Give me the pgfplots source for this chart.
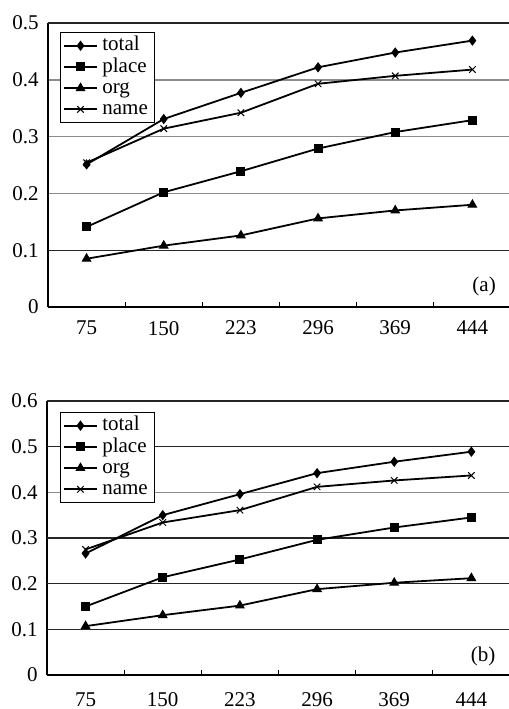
\documentclass[border=0pt]{standalone}
\usepackage{fontspec}
\setmainfont{Liberation Serif}
\usepackage{pgfplots}
\pgfplotsset{compat=1.18}
\pgfplotsset{
  mystyle/.style={
    scale only axis, width=231.5pt,
    xmin=-0.5, xmax=5.5, ymin=0,
    axis x line*=bottom, axis y line*=left,
    axis line style={black, line width=0.9pt},
    xtick={0,1,2,3,4,5}, xticklabels={75,150,223,296,369,444},
    major tick length=0pt,
    extra x ticks={0.5,1.5,2.5,3.5,4.5}, extra x tick labels={},
    extra x tick style={major tick length=2.5pt, tick align=inside, tick style={black, line width=0.6pt}},
    ymajorgrids=true,
    major grid style={black!45, line width=0.7pt},
    extra y tick style={major grid style={black!85, line width=0.7pt}},
    /pgf/number format/assume math mode=true,
    yticklabel style={/pgf/number format/fixed, /pgf/number format/precision=1, xshift=-1.2pt},
    tick label style={font=\fontsize{10.5}{12}\selectfont},
    every axis plot/.append style={black, line width=0.9pt, mark options={solid, line width=0.5pt}},
    legend style={draw=black, line width=0.7pt, font=\fontsize{10.5}{10.5}\selectfont, inner sep=1.2pt, row sep=0pt,
      nodes={inner xsep=2.2pt, inner ysep=0.6pt, text height=7.3pt, text depth=2.1pt},
      legend cell align=left, anchor=north west},
    legend image code/.code={\draw[mark repeat=2,mark phase=2] plot coordinates {(0cm,0cm) (0.29cm,0cm) (0.58cm,0cm)};},
  }
}
\begin{document}
\begin{tikzpicture}
% (a)
\begin{axis}[mystyle, at={(0pt,0pt)}, anchor=south west, height=142pt,
  ymax=0.5, ytick={0,0.2,0.3,0.4}, extra y ticks={0.1,0.5},
  xticklabel style={yshift=-3.5pt},
  legend style={at={(axis description cs:0.026,0.968)}}]
\addplot[mark=diamond*, mark size=2.2pt] coordinates {(0,0.251) (1,0.331) (2,0.377) (3,0.422) (4,0.448) (5,0.469)};
\addplot[mark=square*, mark size=2pt] coordinates {(0,0.141) (1,0.202) (2,0.239) (3,0.279) (4,0.308) (5,0.329)};
\addplot[mark=triangle*, mark size=2.4pt] coordinates {(0,0.085) (1,0.108) (2,0.126) (3,0.156) (4,0.170) (5,0.180)};
\addplot[mark=x, mark size=2.3pt] coordinates {(0,0.254) (1,0.314) (2,0.342) (3,0.393) (4,0.407) (5,0.418)};
\legend{total,place,org,name}
\node[font=\fontsize{10.5}{12}\selectfont] at (rel axis cs:0.942,0.074) {(a)};
\end{axis}
% (b)
\begin{axis}[mystyle, at={(-0.5pt,-184pt)}, anchor=south west, height=137pt,
  ymax=0.6, ytick={0,0.4}, extra y ticks={0.1,0.2,0.3,0.5,0.6},
  xticklabel style={yshift=-5.3pt},
  legend style={at={(axis description cs:0.028,0.96)}}]
\addplot[mark=diamond*, mark size=2.2pt] coordinates {(0,0.266) (1,0.350) (2,0.396) (3,0.442) (4,0.467) (5,0.489)};
\addplot[mark=square*, mark size=2pt] coordinates {(0,0.150) (1,0.214) (2,0.253) (3,0.296) (4,0.323) (5,0.345)};
\addplot[mark=triangle*, mark size=2.4pt] coordinates {(0,0.107) (1,0.131) (2,0.152) (3,0.188) (4,0.202) (5,0.212)};
\addplot[mark=x, mark size=2.3pt] coordinates {(0,0.275) (1,0.334) (2,0.361) (3,0.412) (4,0.426) (5,0.437)};
\legend{total,place,org,name}
\node[font=\fontsize{10.5}{12}\selectfont] at (rel axis cs:0.942,0.066) {(b)};
\end{axis}
\pgfresetboundingbox
\useasboundingbox (-24pt,-201pt) rectangle (230.5pt,153.5pt);
\end{tikzpicture}
\end{document}
